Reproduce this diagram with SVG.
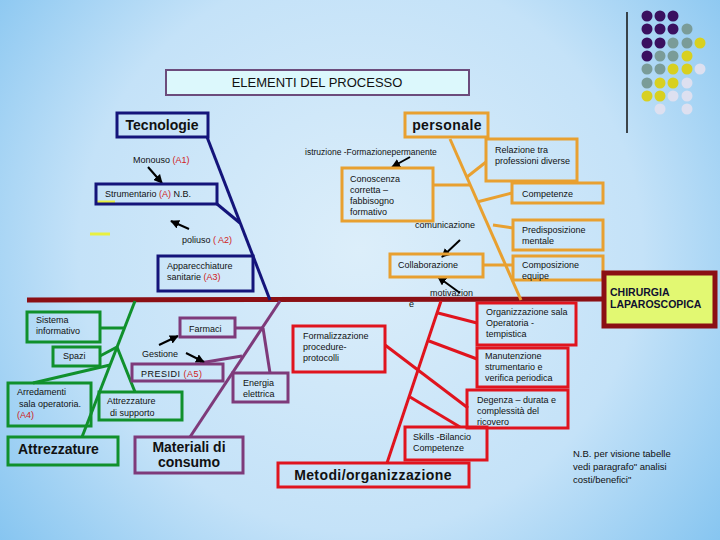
<svg xmlns="http://www.w3.org/2000/svg" width="720" height="540" viewBox="0 0 720 540">
<defs>
<radialGradient id="bg" cx="360" cy="250" r="470" gradientUnits="userSpaceOnUse">
<stop offset="0" stop-color="#dceefa"/>
<stop offset="0.6" stop-color="#c4e2f8"/>
<stop offset="1" stop-color="#84c4f0"/>
</radialGradient>
<marker id="ah" viewBox="0 0 10 10" refX="9" refY="5" markerWidth="4.5" markerHeight="4.5" orient="auto">
<path d="M0,0 L10,5 L0,10 z" fill="#000"/>
</marker>
<style>
text{font-family:"Liberation Sans",Arial,sans-serif;fill:#111}
.s{font-size:9px}
.xs{font-size:8.5px}
.b{font-size:14px;font-weight:bold}
.r{fill:#d02020}
.nv{fill:none;stroke:#14147a;stroke-width:3}
.or{fill:none;stroke:#e8a030;stroke-width:3}
.gr{fill:none;stroke:#10902c;stroke-width:3}
.pu{fill:none;stroke:#7e3a7a;stroke-width:3}
.rd{fill:none;stroke:#e0141e;stroke-width:3}
.ar{stroke:#000;stroke-width:2;fill:none;marker-end:url(#ah)}
.pdot{fill:#3a1060}.gdot{fill:#7a9c98}.ydot{fill:#d8d020}.wdot{fill:#dde0f0}
</style>
</defs>
<rect width="720" height="540" fill="url(#bg)"/>

<g id="decor">
<line x1="627" y1="12" x2="627" y2="133" stroke="#111" stroke-width="1.5"/>
<g>
<circle class="pdot" cx="647" cy="16" r="5.5"/><circle class="pdot" cx="660" cy="16" r="5.5"/><circle class="pdot" cx="673" cy="16" r="5.5"/>
<circle class="pdot" cx="647" cy="29" r="5.5"/><circle class="pdot" cx="660" cy="29" r="5.5"/><circle class="pdot" cx="673" cy="29" r="5.5"/><circle class="gdot" cx="687" cy="29" r="5.5"/>
<circle class="pdot" cx="647" cy="43" r="5.5"/><circle class="pdot" cx="660" cy="43" r="5.5"/><circle class="gdot" cx="673" cy="43" r="5.5"/><circle class="gdot" cx="687" cy="43" r="5.5"/><circle class="ydot" cx="700" cy="43" r="5.5"/>
<circle class="pdot" cx="647" cy="56" r="5.5"/><circle class="gdot" cx="660" cy="56" r="5.5"/><circle class="gdot" cx="673" cy="56" r="5.5"/><circle class="ydot" cx="687" cy="56" r="5.5"/>
<circle class="gdot" cx="647" cy="69" r="5.5"/><circle class="gdot" cx="660" cy="69" r="5.5"/><circle class="ydot" cx="673" cy="69" r="5.5"/><circle class="ydot" cx="687" cy="69" r="5.5"/><circle class="wdot" cx="700" cy="69" r="5.5"/>
<circle class="gdot" cx="647" cy="83" r="5.5"/><circle class="ydot" cx="660" cy="83" r="5.5"/><circle class="ydot" cx="673" cy="83" r="5.5"/><circle class="wdot" cx="687" cy="83" r="5.5"/>
<circle class="ydot" cx="647" cy="96" r="5.5"/><circle class="ydot" cx="660" cy="96" r="5.5"/><circle class="wdot" cx="673" cy="96" r="5.5"/><circle class="wdot" cx="687" cy="96" r="5.5"/>
<circle class="wdot" cx="660" cy="109" r="5.5"/><circle class="wdot" cx="687" cy="109" r="5.5"/>
</g>
<line x1="96" y1="202" x2="115" y2="202" stroke="#e8f040" stroke-width="3"/>
<line x1="90" y1="234" x2="110" y2="234" stroke="#e8f040" stroke-width="3"/>
</g>

<g id="connectors">
<line x1="27" y1="300" x2="604" y2="299" stroke="#8b0f14" stroke-width="5"/>
<!-- tecnologie -->
<line class="nv" x1="207" y1="137" x2="270" y2="300" stroke-width="2.5"/>
<line class="nv" x1="217" y1="204" x2="240" y2="223" stroke-width="2.5"/>
<!-- personale -->
<line class="or" x1="450" y1="139" x2="521" y2="300"/>
<line class="or" x1="486" y1="162" x2="467" y2="177"/>
<line class="or" x1="433" y1="185" x2="471" y2="185"/>
<line class="or" x1="512" y1="193" x2="477" y2="202"/>
<line class="or" x1="513" y1="228" x2="493" y2="225"/>
<line class="or" x1="483" y1="265" x2="513" y2="265"/>
<!-- attrezzature -->
<line class="gr" x1="135" y1="301" x2="82" y2="437"/>
<line class="gr" x1="100" y1="328" x2="124" y2="328"/>
<line class="gr" x1="100" y1="356" x2="117" y2="347"/>
<line class="gr" x1="117" y1="347" x2="135" y2="392"/>
<line class="gr" x1="33" y1="383" x2="110" y2="365"/>
<!-- materiali -->
<line class="pu" x1="280" y1="301" x2="190" y2="437"/>
<line class="pu" x1="235" y1="328" x2="263" y2="328" stroke-width="2"/>
<line class="pu" x1="263" y1="328" x2="270" y2="373" stroke-width="2"/>
<line class="pu" x1="200" y1="363" x2="242" y2="356" stroke-width="2"/>
<!-- metodi -->
<line class="rd" x1="441" y1="301" x2="387" y2="463"/>
<line class="rd" x1="438" y1="313" x2="477" y2="323"/>
<line class="rd" x1="429" y1="341" x2="477" y2="359"/>
<line class="rd" x1="385" y1="345" x2="468" y2="408"/>
<line class="rd" x1="410" y1="397" x2="460" y2="427"/>
<!-- arrows -->
<line class="ar" x1="148" y1="167" x2="162" y2="183"/>
<line class="ar" x1="189" y1="229" x2="171" y2="221"/>
<line class="ar" x1="410" y1="157" x2="392" y2="167"/>
<line class="ar" x1="460" y1="240" x2="442" y2="257"/>
<line class="ar" x1="460" y1="293" x2="438" y2="277"/>
<line class="ar" x1="159" y1="345" x2="178" y2="336"/>
<line class="ar" x1="186" y1="353" x2="204" y2="362"/>
</g>

<g id="title">
<rect x="166" y="70" width="303" height="25" fill="#dcf8fc" stroke="#6c4c7c" stroke-width="2"/>
<text x="317" y="87" text-anchor="middle" style="font-size:13px">ELEMENTI DEL PROCESSO</text>
</g>

<g id="tecnologie">
<rect class="nv" x="117" y="113" width="91" height="24"/>
<text class="b" x="162" y="130" text-anchor="middle">Tecnologie</text>
</g>
<g id="monouso"><text class="s" x="133" y="163">Monouso <tspan class="r">(A1)</tspan></text></g>
<g id="strumentario">
<rect class="nv" x="96" y="184" width="121" height="20"/>
<text class="s" x="105" y="197">Strumentario <tspan class="r">(A)</tspan> N.B.</text>
</g>
<g id="poliuso"><text class="s" x="182" y="243">poliuso <tspan class="r">( A2)</tspan></text></g>
<g id="apparecchiature">
<rect class="nv" x="158" y="256" width="95" height="35"/>
<text class="s" x="167" y="269">Apparecchiature</text>
<text class="s" x="167" y="280">sanitarie <tspan class="r">(A3)</tspan></text>
</g>

<g id="personale">
<rect class="or" x="405" y="113" width="83" height="24"/>
<text class="b" x="447" y="130" text-anchor="middle" letter-spacing="0.4">personale</text>
</g>
<g id="istruzione"><text class="xs" x="305" y="155">istruzione -Formazionepermanente</text></g>
<g id="relazione">
<rect class="or" x="486" y="139" width="91" height="42"/>
<text class="s" x="495" y="153">Relazione tra</text>
<text class="s" x="495" y="164">professioni diverse</text>
</g>
<g id="conoscenza">
<rect class="or" x="342" y="168" width="91" height="53"/>
<text class="s" x="350" y="182">Conoscenza</text>
<text class="s" x="350" y="193">corretta –</text>
<text class="s" x="350" y="204">fabbisogno</text>
<text class="s" x="350" y="215">formativo</text>
</g>
<g id="competenze">
<rect class="or" x="512" y="183" width="91" height="20"/>
<text class="s" x="522" y="197">Competenze</text>
</g>
<g id="comunicazione"><text class="s" x="415" y="228">comunicazione</text></g>
<g id="predisposizione">
<rect class="or" x="513" y="220" width="90" height="30"/>
<text class="s" x="522" y="233">Predisposizione</text>
<text class="s" x="522" y="244">mentale</text>
</g>
<g id="collaborazione">
<rect class="or" x="390" y="254" width="93" height="23"/>
<text class="s" x="398" y="268">Collaborazione</text>
</g>
<g id="composizione">
<rect class="or" x="513" y="256" width="90" height="24"/>
<text class="s" x="522" y="268">Composizione</text>
<text class="s" x="522" y="279">equipe</text>
</g>
<g id="motivazione">
<text class="s" x="430" y="296">motivazion</text>
<text class="s" x="409" y="307">e</text>
</g>

<g id="chirurgia">
<rect x="604" y="273" width="111" height="53" fill="#e2f872" stroke="#8b0f14" stroke-width="5"/>
<text x="610" y="296" style="font-size:10.5px;font-weight:bold;fill:#101030">CHIRURGIA</text>
<text x="610" y="308" style="font-size:10.5px;font-weight:bold;fill:#101030">LAPAROSCOPICA</text>
</g>

<g id="sistema">
<rect class="gr" x="27" y="312" width="73" height="30"/>
<text class="s" x="36" y="323">Sistema</text>
<text class="s" x="36" y="334">informativo</text>
</g>
<g id="spazi">
<rect class="gr" x="53" y="347" width="47" height="19"/>
<text class="s" x="63" y="359">Spazi</text>
</g>
<g id="arredamenti">
<rect class="gr" x="8" y="383" width="83" height="43"/>
<text class="s" x="17" y="395">Arredamenti</text>
<text class="s" x="19" y="407">sala operatoria.</text>
<text class="s r" x="17" y="418">(A4)</text>
</g>
<g id="supporto">
<rect class="gr" x="99" y="392" width="83" height="28"/>
<text class="s" x="107" y="404">Attrezzature</text>
<text class="s" x="110" y="416">di supporto</text>
</g>
<g id="attrezzature">
<rect class="gr" x="8" y="437" width="110" height="28"/>
<text class="b" x="18" y="454">Attrezzature</text>
</g>

<g id="farmaci">
<rect class="pu" x="180" y="318" width="55" height="19"/>
<text class="s" x="189" y="332">Farmaci</text>
</g>
<g id="gestione"><text class="s" x="142" y="357">Gestione</text></g>
<g id="presidi">
<rect class="pu" x="132" y="364" width="91" height="17"/>
<text class="s" x="141" y="377" letter-spacing="0.5">PRESIDI <tspan class="r">(A5)</tspan></text>
</g>
<g id="energia">
<rect class="pu" x="233" y="373" width="55" height="29"/>
<text class="s" x="243" y="386">Energia</text>
<text class="s" x="243" y="397">elettrica</text>
</g>
<g id="materiali">
<rect class="pu" x="135" y="437" width="108" height="36"/>
<text class="b" x="189" y="452" text-anchor="middle">Materiali di</text>
<text class="b" x="189" y="467" text-anchor="middle">consumo</text>
</g>

<g id="organizzazione">
<rect class="rd" x="477" y="303" width="99" height="42"/>
<text class="s" x="486" y="315">Organizzazione sala</text>
<text class="s" x="486" y="326">Operatoria -</text>
<text class="s" x="486" y="337">tempistica</text>
</g>
<g id="formalizzazione">
<rect class="rd" x="293" y="326" width="92" height="46"/>
<text class="s" x="303" y="339">Formalizzazione</text>
<text class="s" x="303" y="350">procedure-</text>
<text class="s" x="303" y="361">protocolli</text>
</g>
<g id="manutenzione">
<rect class="rd" x="477" y="348" width="91" height="39"/>
<text class="s" x="485" y="359">Manutenzione</text>
<text class="s" x="485" y="370">strumentario e</text>
<text class="s" x="485" y="381">verifica periodica</text>
</g>
<g id="degenza">
<rect class="rd" x="467" y="390" width="101" height="38"/>
<text class="s" x="477" y="403">Degenza – durata e</text>
<text class="s" x="477" y="414">complessità del</text>
<text class="s" x="477" y="425">ricovero</text>
</g>
<g id="skills">
<rect class="rd" x="405" y="427" width="82" height="33"/>
<text class="s" x="413" y="440">Skills -Bilancio</text>
<text class="s" x="413" y="451">Competenze</text>
</g>
<g id="metodi">
<rect class="rd" x="278" y="463" width="191" height="24"/>
<text class="b" x="373" y="480" text-anchor="middle" letter-spacing="0.4">Metodi/organizzazione</text>
</g>

<g id="nota">
<text x="573" y="457" style="font-size:9.5px">N.B. per visione tabelle</text>
<text x="573" y="470" style="font-size:9.5px">vedi paragrafo" analisi</text>
<text x="573" y="483" style="font-size:9.5px">costi/benefici"</text>
</g>
</svg>
